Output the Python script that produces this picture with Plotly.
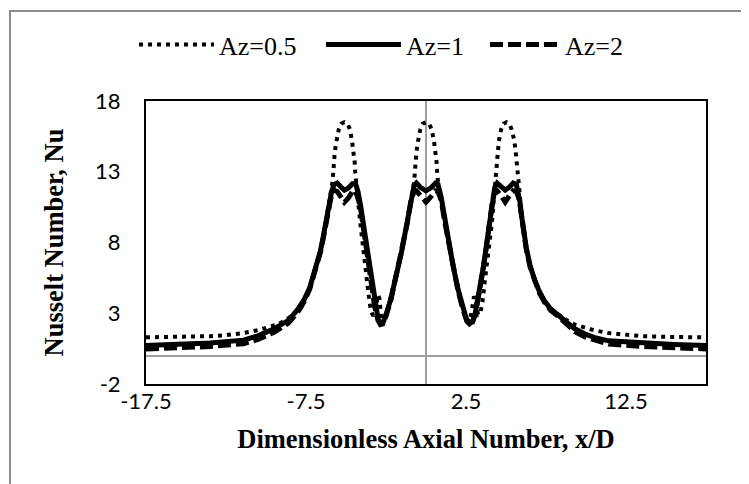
import plotly.graph_objects as go

# ---------------- data ----------------
x_az05 = [-17.5, -15.5, -13.5, -12.5, -11.4, -10.5, -9.3, -8.7, -8.25, -7.8, -7.27, -6.9, -6.6,
          -6.44, -6.25, -6.08, -5.9, -5.84, -5.8, -5.76, -5.7, -5.6, -5.45, -5.3, -5.1, -4.9,
          -4.75, -4.62, -4.52, -4.46, -4.42, -4.38, -4.3, -4.1, -3.9, -3.75, -3.6, -3.45, -3.3,
          -3.15, -3.0, -2.9, -2.8, -2.6, -2.3, -1.9, -1.55, -1.2, -0.95, -0.8, -0.74, -0.7,
          -0.66, -0.6, -0.5, -0.35, -0.2, 0.0, 0.2, 0.35, 0.5, 0.6, 0.66, 0.7, 0.75, 0.82,
          1.0, 1.2, 1.4, 1.7, 2.0, 2.3, 2.55, 2.72, 2.85, 3.0, 3.1, 3.25, 3.4, 3.55, 3.7, 3.9,
          4.1, 4.25, 4.32, 4.35, 4.39, 4.45, 4.55, 4.7, 4.85, 5.03, 5.2, 5.35, 5.5, 5.6, 5.68,
          5.75, 5.8, 5.86, 5.96, 6.1, 6.27, 6.5, 6.8, 7.1, 7.42, 7.8, 8.25, 8.8, 9.3, 10.0,
          10.5, 11.4, 12.5, 13.5, 15.5, 17.5]
y_az05 = [1.30, 1.32, 1.38, 1.45, 1.60, 1.80, 2.20, 2.55, 2.95, 3.40, 4.80, 6.20, 7.40,
          8.30, 9.60, 10.70, 11.60, 12.30, 12.90, 13.70, 14.40, 15.15, 16.00, 16.40, 16.50, 16.40,
          16.00, 15.15, 14.40, 13.70, 12.90, 12.30, 11.50, 9.30, 7.60, 5.90, 4.40, 3.20, 2.80,
          3.30, 4.30, 4.00, 2.60, 2.60, 3.70, 5.50, 7.20, 9.30, 11.00, 11.60, 12.30, 12.90,
          13.70, 14.40, 15.15, 16.00, 16.40, 16.50, 16.40, 16.00, 15.15, 14.40, 13.70, 12.90, 12.30, 11.50,
          10.60, 9.20, 8.00, 6.30, 4.70, 3.40, 2.60, 2.40, 3.10, 4.20, 3.90, 2.90, 3.00, 4.00, 5.50, 7.10,
          9.20, 11.20, 12.20, 12.90, 13.70, 14.40, 15.15, 16.00, 16.40, 16.50, 16.40, 16.00, 15.30, 14.50, 13.70,
          12.90, 12.20, 11.40, 10.00, 8.80, 7.60, 6.40, 5.30, 4.50, 3.84, 3.30, 2.90, 2.50, 2.20, 1.95,
          1.80, 1.60, 1.45, 1.38, 1.32, 1.30]

x_az1 = [-17.5, -15.5, -13.5, -11.4, -10.5, -9.5, -8.6, -8.0, -7.6, -7.27, -6.9, -6.6, -6.44,
         -6.25, -6.08, -5.9, -5.75, -5.55, -5.3, -5.1, -4.85, -4.6, -4.4, -4.25, -4.1, -3.95,
         -3.8, -3.6, -3.4, -3.2, -3.0, -2.85, -2.7, -2.5, -2.2, -1.9, -1.55, -1.2, -0.95,
         -0.75, -0.6, -0.35, 0.0, 0.35, 0.6, 0.75, 0.95, 1.15, 1.4, 1.7, 2.0, 2.3, 2.55, 2.72,
         2.9, 3.1, 3.35, 3.6, 3.8, 4.0, 4.15, 4.3, 4.45, 4.7, 4.95, 5.2, 5.45, 5.65, 5.78,
         5.88, 5.96, 6.1, 6.27, 6.5, 6.8, 7.1, 7.42, 7.8, 8.25, 8.8, 9.3, 10.0, 10.5, 11.4,
         13.5, 15.5, 17.5]
y_az1 = [0.72, 0.80, 0.90, 1.10, 1.40, 1.90, 2.50, 3.30, 4.00, 4.80, 6.20, 7.40, 8.30,
         9.60, 10.70, 11.60, 12.10, 12.20, 11.90, 11.70, 11.85, 12.15, 12.15, 11.60, 10.70, 9.60,
         8.40, 6.80, 5.00, 3.60, 2.60, 2.25, 2.30, 2.90, 4.00, 5.50, 7.20, 9.30, 11.00,
         12.00, 12.20, 11.90, 11.65, 11.90, 12.20, 12.10, 11.20, 9.80, 8.10, 6.30, 4.70, 3.40, 2.50, 2.25,
         2.40, 3.10, 4.60, 6.40, 8.00, 9.80, 11.00, 11.90, 12.20, 11.90, 11.70, 11.90, 12.20, 12.10, 11.50,
         10.80, 10.00, 8.80, 7.60, 6.40, 5.30, 4.50, 3.84, 3.30, 2.90, 2.40, 1.90, 1.50, 1.30, 1.05,
         0.88, 0.80, 0.72]

x_az2 = [-17.5, -15.5, -13.5, -11.4, -10.5, -9.5, -8.6, -8.0, -7.6, -7.27, -6.9, -6.6, -6.44,
         -6.25, -6.08, -5.9, -5.75, -5.55, -5.3, -5.1, -4.85, -4.6, -4.45, -4.3, -4.1, -3.95,
         -3.8, -3.6, -3.4, -3.2, -3.0, -2.85, -2.7, -2.5, -2.2, -1.9, -1.55, -1.2, -0.95,
         -0.75, -0.6, -0.35, 0.0, 0.35, 0.6, 0.75, 0.95, 1.15, 1.4, 1.7, 2.0, 2.3, 2.55, 2.72,
         2.9, 3.1, 3.35, 3.6, 3.8, 4.0, 4.15, 4.3, 4.45, 4.7, 4.95, 5.2, 5.45, 5.65, 5.78,
         5.88, 5.96, 6.1, 6.27, 6.5, 6.8, 7.1, 7.42, 7.8, 8.25, 8.8, 9.3, 10.0, 10.5, 11.4,
         13.5, 15.5, 17.5]
y_az2 = [0.48, 0.55, 0.65, 0.85, 1.15, 1.65, 2.30, 3.10, 3.85, 4.70, 6.10, 7.30, 8.20,
         9.50, 10.60, 11.40, 11.70, 11.60, 11.20, 10.85, 11.15, 11.60, 11.70, 11.30, 10.50, 9.40,
         8.20, 6.60, 4.80, 3.40, 2.50, 2.20, 2.25, 2.80, 3.90, 5.40, 7.10, 9.20, 10.90,
         11.60, 11.65, 11.30, 10.85, 11.30, 11.65, 11.60, 11.00, 9.60, 8.00, 6.20, 4.60, 3.30, 2.45, 2.20,
         2.35, 3.00, 4.50, 6.30, 7.90, 9.70, 10.90, 11.60, 11.65, 11.30, 10.85, 11.30, 11.65, 11.60, 11.20,
         10.60, 9.90, 8.70, 7.50, 6.30, 5.20, 4.40, 3.75, 3.20, 2.80, 2.25, 1.70, 1.30, 1.10, 0.82,
         0.65, 0.56, 0.48]

series_names = ["Az=0.5", "Az=1", "Az=2"]
x_tickvals = [-17.5, -7.5, 2.5, 12.5]
x_ticktext = ["-17.5", "-7.5", "2.5", "12.5"]
y_tickvals = [-2, 3, 8, 13, 18]
y_ticktext = ["-2", "3", "8", "13", "18"]

# ---------------- figure ----------------
fig = go.Figure()
fig.add_trace(go.Scatter(x=x_az05, y=y_az05, mode="lines", name=series_names[0], legend="legend",
                         line=dict(color="black", width=4, dash="4px,5px")))
fig.add_trace(go.Scatter(x=x_az1, y=y_az1, mode="lines", name=series_names[1], legend="legend2",
                         line=dict(color="black", width=5)))
fig.add_trace(go.Scatter(x=x_az2, y=y_az2, mode="lines", name=series_names[2], legend="legend3",
                         line=dict(color="black", width=5, dash="13px,5px")))

W, H = 749, 484
ml, mr, mt, mb = 138, 51, 93, 108
pw, ph = W - ml - mr, H - mt - mb

def px2paper_x(px):
    return (px - ml) / pw

def px2paper_y(py):
    return (H - mb - py) / ph

def legend_at(px, iw):
    return dict(orientation="h", x=px2paper_x(px), y=px2paper_y(13), xanchor="left", yanchor="top",
                font=dict(family="Liberation Serif", size=26, color="black"),
                itemwidth=iw, bgcolor="rgba(0,0,0,0)", borderwidth=0)

axis_font = dict(family="Lato", size=22, color="black")
title_font = dict(family="Liberation Serif", size=26.5, color="black")

fig.update_layout(
    width=W, height=H,
    margin=dict(l=ml, r=mr, t=mt, b=mb, autoexpand=False),
    paper_bgcolor="white", plot_bgcolor="white",
    showlegend=True,
    legend=legend_at(126, 75),
    legend2=legend_at(313, 75),
    legend3=legend_at(477, 70),
    xaxis=dict(range=[-17.5, 17.5], tickvals=x_tickvals, ticktext=x_ticktext,
               showgrid=False, zeroline=True, zerolinecolor="#a0a0a0", zerolinewidth=1.5,
               showline=True, linecolor="black", linewidth=2, mirror=True, ticks="",
               ticklabelstandoff=-3, tickfont=axis_font,
               title=dict(text="<b>Dimensionless Axial Number, x/D</b>", standoff=16, font=title_font)),
    yaxis=dict(range=[-2, 18], tickvals=y_tickvals, ticktext=y_ticktext,
               showgrid=False, zeroline=True, zerolinecolor="#a0a0a0", zerolinewidth=1.5,
               showline=True, linecolor="black", linewidth=2, mirror=True, ticks="",
               ticklabelstandoff=19, tickfont=axis_font,
               title=dict(text="<b>Nusselt Number, Nu</b>", standoff=24, font=title_font)),
    shapes=[dict(type="rect", xref="paper", yref="paper",
                 x0=px2paper_x(2), x1=px2paper_x(746), y0=px2paper_y(482), y1=px2paper_y(3),
                 line=dict(color="#8c8c8c", width=2), fillcolor="rgba(0,0,0,0)", layer="below")],
)

fig.write_html("out.html")
